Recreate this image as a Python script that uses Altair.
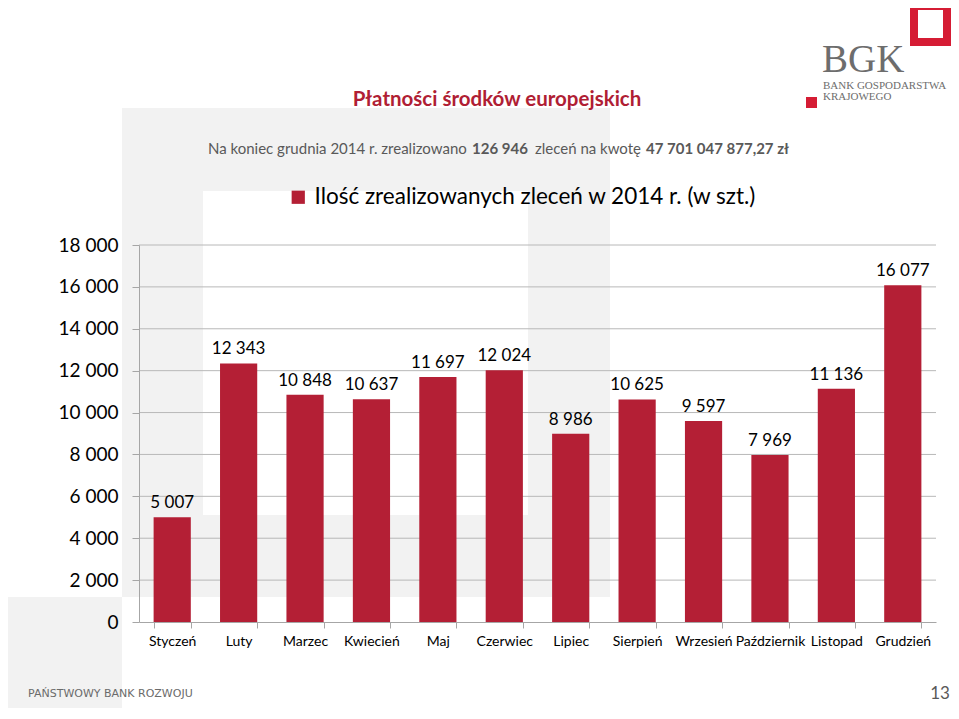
import altair as alt
import pandas as pd

months = ["Styczeń", "Luty", "Marzec", "Kwiecień", "Maj", "Czerwiec", "Lipiec",
          "Sierpień", "Wrzesień", "Październik", "Listopad", "Grudzień"]
values = [5007, 12343, 10848, 10637, 11697, 12024, 8986, 10625, 9597, 7969, 11136, 16077]
series_name = "Ilość zrealizowanych zleceń w 2014 r. (w szt.)"
y_ticks = list(range(0, 18001, 2000))

RED = "#b41f35"
LOGO_RED = "#d51c34"
GREY_BG = "#f2f2f2"
FONT = "Lato"

df = pd.DataFrame({"month": months, "value": values, "series": series_name})
grid_df = pd.DataFrame({"v": y_ticks[1:]})

W, H = 797, 377
PAD_L, PAD_T = 131, 237
TOTAL_W, TOTAL_H = 943, 700

label_expr = "replace(format(datum.value, ','), ',', ' ')"

y_axis = alt.Axis(values=y_ticks, labelExpr=label_expr, grid=False, title=None,
                  domainColor="#a6a6a6", tickColor="#a6a6a6", tickSize=7,
                  labelFontSize=19, labelColor="#000000", labelFont=FONT,
                  labelPadding=14, zindex=1)
y_scale = alt.Scale(domain=[0, 18000], nice=False)

x_enc = alt.X("month:N", sort=months, title=None,
              scale=alt.Scale(paddingInner=0.44, paddingOuter=0.22),
              axis=alt.Axis(labelAngle=0, tickBand="extent", tickSize=6,
                            labelPadding=6, labelFontSize=14, labelFont=FONT,
                            labelColor="#000000", domainColor="#a6a6a6",
                            tickColor="#a6a6a6", labelLimit=0, zindex=1))


def px(x):
    return x - (8 + PAD_L)


def py(y):
    return y - (8 + PAD_T)


one = alt.Data(values=[{"k": 1}])


def rect(x1, y1, x2, y2, fill, **kw):
    return alt.Chart(one).mark_rect(fill=fill, **kw).encode(
        x=alt.value(px(x1)), x2=alt.value(px(x2)),
        y=alt.value(py(y1)), y2=alt.value(py(y2)))


def text(s, x, y, size, color="#000000", font=FONT, weight="normal", align="center", baseline="alphabetic"):
    return alt.Chart(one).mark_text(fontSize=size, font=font, fontWeight=weight, color=color,
                                    align=align, baseline=baseline).encode(
        x=alt.value(px(x)), y=alt.value(py(y)), text=alt.value(s))


# watermark background
bg = [
    rect(122, 108, 610, 597, GREY_BG),
    rect(203, 191, 528, 515, "#ffffff"),
    rect(0, 597, 122, 719, GREY_BG),
]

grid = alt.Chart(grid_df).mark_rule(color="#b8b8b8", strokeWidth=1).encode(
    y=alt.Y("v:Q", scale=y_scale, axis=y_axis),
    x=alt.value(0), x2=alt.value(W))

bars = alt.Chart(df).mark_bar().encode(
    x=x_enc,
    y=alt.Y("value:Q", scale=y_scale, axis=y_axis),
    color=alt.Color("series:N", scale=alt.Scale(range=[RED]),
                    legend=alt.Legend(title=None, orient="none", legendX=px(287), legendY=py(186),
                                      symbolType="square", symbolSize=175, symbolStrokeWidth=0,
                                      labelFontSize=22.5, labelFont=FONT, labelColor="#000000",
                                      labelLimit=0, labelOffset=5, padding=0)))

labels = alt.Chart(df).transform_calculate(
    lbl="replace(format(datum.value, ','), ',', ' ')"
).mark_text(fontSize=17, font=FONT, color="#000000", baseline="alphabetic", dy=-9).encode(
    x=x_enc,
    y=alt.Y("value:Q", scale=y_scale, axis=y_axis),
    text="lbl:N")

ann = [
    text("Płatności środków europejskich", 497, 106, 20.5, color="#b01e34", weight="bold"),
    text("Na koniec grudnia 2014 r. zrealizowano", 208, 154, 15, color="#595959", align="left"),
    text("126 946", 472, 154, 15, color="#595959", weight="bold", align="left"),
    text("zleceń na kwotę", 535, 154, 15, color="#595959", align="left"),
    text("47 701 047 877,27 zł", 646, 154, 15, color="#595959", weight="bold", align="left"),
    text("PAŃSTWOWY BANK ROZWOJU", 28, 697, 11, color="#6b6b6b", font="DejaVu Sans", align="left"),
    text("13", 940, 699, 17, color="#595959"),
    # BGK logo
    alt.Chart(one).mark_rect(fill="transparent", stroke=LOGO_RED, strokeWidth=8).encode(
        x=alt.value(px(914)), x2=alt.value(px(947)),
        y=alt.value(py(6)), y2=alt.value(py(42))),
    rect(806, 97, 817, 108, LOGO_RED),
    text("BGK", 822, 72, 39, color="#6d6d6d", font="Liberation Serif", align="left"),
    text("BANK GOSPODARSTWA", 823, 89, 11, color="#6d6d6d", font="Liberation Serif", align="left"),
    text("KRAJOWEGO", 823, 100, 11, color="#6d6d6d", font="Liberation Serif", align="left"),
]

chart = alt.layer(*bg, grid, bars, labels, *ann).properties(
    width=W, height=H,
    autosize=alt.AutoSizeParams(type="none"),
    padding={"left": PAD_L, "top": PAD_T, "right": TOTAL_W - PAD_L - W, "bottom": TOTAL_H - PAD_T - H},
    background="#ffffff",
).configure_view(stroke=None)

chart.save("out.html", embed_options={"renderer": "svg", "actions": False})
